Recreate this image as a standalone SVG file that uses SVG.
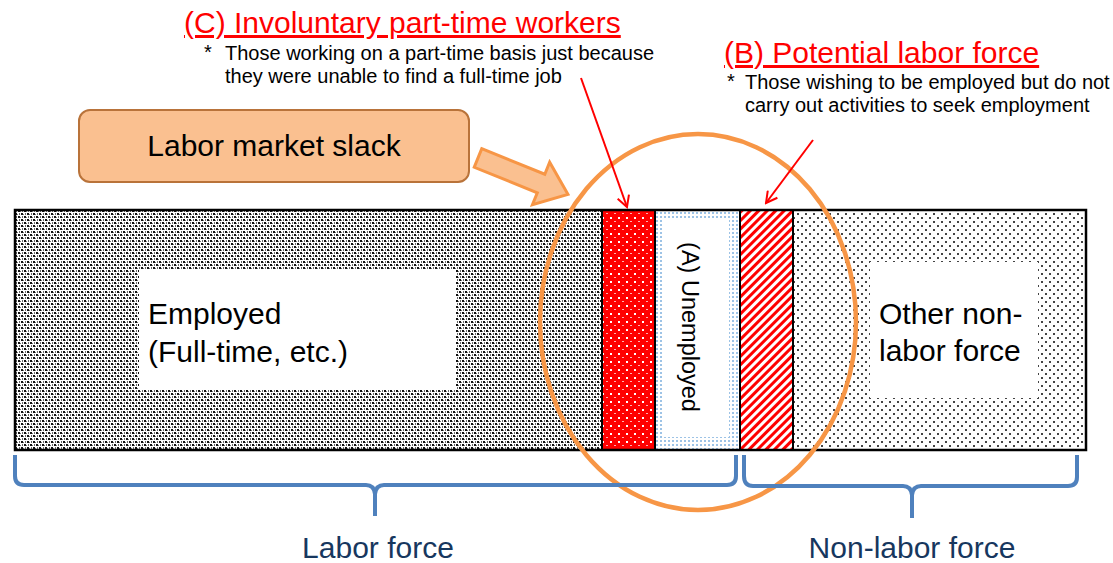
<svg xmlns="http://www.w3.org/2000/svg" width="1113" height="563" viewBox="0 0 1113 563">
<style>
text{font-family:"Liberation Sans",Arial,sans-serif}
.big{font-size:30px;fill:#000}
.red{font-size:30px;fill:#FF0000;text-decoration:underline}
.small{font-size:20px;fill:#000}
.blue{font-size:30px;fill:#17375E}
.brace{fill:none;stroke:#4F81BD;stroke-width:4;stroke-linejoin:round}
.divider{stroke:#000;stroke-width:2}
.redline{stroke:#FF0000;stroke-width:2;fill:none}
</style>
<defs>
<pattern id="checker" width="6" height="6" patternUnits="userSpaceOnUse">
<rect width="6" height="6" fill="#fff"/>
<rect x="0" y="0" width="2" height="2" fill="#111"/>
<rect x="3" y="3" width="2" height="2" fill="#111"/>
<rect x="2" y="1" width="1" height="1" fill="#777"/>
<rect x="5" y="4" width="1" height="1" fill="#777"/>
<rect x="1" y="3" width="1" height="2" fill="#666"/>
<rect x="4" y="0" width="1" height="2" fill="#666"/>
</pattern>
<pattern id="reddots" width="8" height="8" patternUnits="userSpaceOnUse">
<rect width="8" height="8" fill="#FF0000"/>
<rect x="2" y="1" width="2" height="2" fill="#fff"/>
<rect x="6" y="5" width="2" height="1" fill="#FFB0B0"/>
</pattern>
<pattern id="bluedots" width="4" height="4" patternUnits="userSpaceOnUse">
<rect width="4" height="4" fill="#fff"/>
<rect x="0" y="0" width="2" height="2" fill="#9DC3E6"/>
</pattern>
<pattern id="hatch" width="6" height="6" patternUnits="userSpaceOnUse" patternTransform="rotate(-45)">
<rect width="6" height="6" fill="#fff"/>
<rect width="6" height="3" fill="#FF0000"/>
</pattern>
<pattern id="sparse" width="8" height="8" patternUnits="userSpaceOnUse">
<rect width="8" height="8" fill="#fff"/>
<rect x="1" y="1" width="2" height="2" fill="#444"/>
<rect x="5" y="5" width="2" height="2" fill="#444"/>
</pattern>
<marker id="vhead" markerWidth="14" markerHeight="14" refX="12" refY="7" orient="auto" markerUnits="userSpaceOnUse">
<path d="M1,1 L12,7 L1,13" fill="none" stroke="#FF0000" stroke-width="2"/>
</marker>
</defs>

<g id="employed">
<rect x="15" y="210" width="587" height="240" fill="url(#checker)"/>
<rect x="139" y="270" width="317" height="120" fill="#fff"/>
<text class="big" x="148" y="324">Employed</text>
<text class="big" x="148" y="362">(Full-time, etc.)</text>
</g>
<g id="involuntary-part-time">
<rect x="602" y="210" width="53" height="240" fill="url(#reddots)"/>
</g>
<g id="unemployed">
<rect x="655" y="210" width="85" height="240" fill="url(#bluedots)"/>
<rect x="662" y="220" width="67" height="217" fill="#fff"/>
<text class="big" transform="translate(682,327) rotate(90)" text-anchor="middle" style="font-size:23.5px">(A) Unemployed</text>
</g>
<g id="potential-labor-force">
<rect x="740" y="210" width="53" height="240" fill="url(#hatch)"/>
</g>
<g id="other-non-labor">
<rect x="793" y="210" width="293" height="240" fill="url(#sparse)"/>
<rect x="870" y="262" width="168" height="136" fill="#fff"/>
<text class="big" x="879" y="324">Other non-</text>
<text class="big" x="879" y="361">labor force</text>
</g>
<g id="bar-outline">
<rect x="15" y="210" width="1071" height="240" fill="none" stroke="#000" stroke-width="2.5"/>
<line class="divider" x1="602" y1="210" x2="602" y2="450"/>
<line class="divider" x1="655" y1="210" x2="655" y2="450"/>
<line class="divider" x1="740" y1="210" x2="740" y2="450"/>
<line class="divider" x1="793" y1="210" x2="793" y2="450"/>
</g>

<g id="slack-box">
<rect x="79" y="110" width="390" height="72" rx="11" fill="#FAC090" stroke="#B9733A" stroke-width="2"/>
<text class="big" x="274" y="156" text-anchor="middle">Labor market slack</text>
</g>

<g id="slack-ellipse">
<ellipse cx="698" cy="322" rx="158" ry="188" fill="none" stroke="#F79646" stroke-width="4.5"/>
</g>

<g id="label-c">
<text class="red" x="184" y="33">(C) Involuntary part-time workers</text>
<text class="small" x="204" y="59">*</text>
<text class="small" x="225" y="60">Those working on a part-time basis just because</text>
<text class="small" x="225" y="83">they were unable to find a full-time job</text>
</g>
<g id="label-b">
<text class="red" x="724" y="63">(B) Potential labor force</text>
<text class="small" x="727" y="88">*</text>
<text class="small" x="745" y="89">Those wishing to be employed but do not</text>
<text class="small" x="745" y="112">carry out activities to seek employment</text>
</g>

<g id="labor-force-label">
<text class="blue" x="378" y="558" text-anchor="middle">Labor force</text>
</g>
<g id="non-labor-force-label">
<text class="blue" x="912" y="558" text-anchor="middle">Non-labor force</text>
</g>

<g id="connectors">
<polygon points="0,-10 68,-10 68,-23 97,0 68,23 68,10 0,10" transform="translate(478,158) rotate(22)" fill="#FAC090" stroke="#F79646" stroke-width="3" stroke-linejoin="miter"/>
<line class="redline" x1="581" y1="78" x2="627" y2="207" marker-end="url(#vhead)"/>
<line class="redline" x1="813" y1="140" x2="766" y2="203" marker-end="url(#vhead)"/>
<path class="brace" d="M15,455 L15,476 Q15,485 24,485 L366,485 Q374,485 375,494 L375,516 M375,516 L375,494 Q376,485 384,485 L727,485 Q736,485 736,476 L736,455"/>
<path class="brace" d="M744,455 L744,476 Q744,486 753,486 L903,486 Q911,486 912,495 L912,518 M912,518 L912,495 Q913,486 921,486 L1068,486 Q1077,486 1077,477 L1077,455"/>
</g>
</svg>
